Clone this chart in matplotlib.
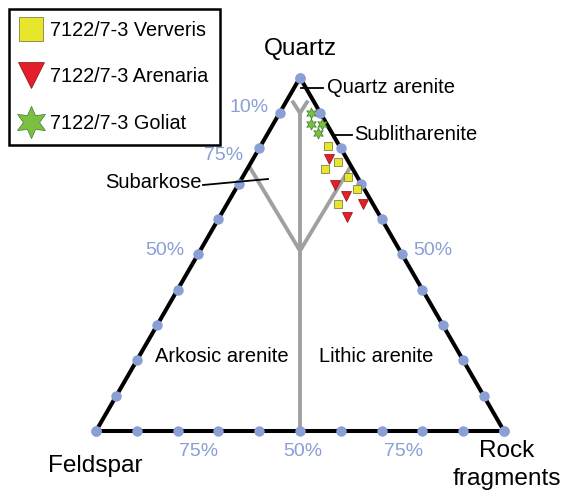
import numpy as np
import matplotlib
matplotlib.use("Agg")
import matplotlib.pyplot as plt

plt.rcParams['font.family'] = ['Liberation Sans', 'DejaVu Sans']

# sample compositions in percent: quartz, feldspar, rock fragments
ververis_q = [80.8, 76.1, 74.1, 71.8, 68.5, 64.2]
ververis_f = [2.7, 2.7, 6.9, 2.3, 1.7, 8.6]
ververis_r = [16.5, 21.2, 19.0, 25.9, 29.8, 27.2]

arenaria_q = [76.9, 69.6, 66.5, 64.2, 60.6]
arenaria_f = [4.5, 6.6, 5.4, 2.5, 8.2]
arenaria_r = [18.6, 23.8, 28.1, 33.3, 31.2]

goliat_q = [90.1, 87.0, 87.0, 84.2]
goliat_f = [2.3, 3.8, 1.1, 3.5]
goliat_r = [7.6, 9.2, 11.9, 12.3]

series_labels = ['7122/7-3 Ververis', '7122/7-3 Arenaria', '7122/7-3 Goliat']
field_labels = ['Quartz arenite', 'Sublitharenite', 'Subarkose', 'Arkosic arenite', 'Lithic arenite']
pct_labels = ['10%', '75%', '50%', '50%', '75%', '50%', '75%']

H = np.sqrt(3) / 2
BLUE = '#8a9fd6'
W, HGT, SCALE = 565, 492, 408.0
X0, Y0 = 96, 431  # pixel position of the feldspar corner


def tern(q, f, r):
    q, f, r = np.asarray(q, float), np.asarray(f, float), np.asarray(r, float)
    s = q + f + r
    return r / s + q / s / 2, q / s * H


def px(x, y):
    # pixel position (from top-left) -> data coords
    return (x - X0) / SCALE, (Y0 - y) / SCALE


fig = plt.figure(figsize=(W / 100, HGT / 100), dpi=100)
ax = fig.add_axes([0, 0, 1, 1])
ax.set_xlim(-X0 / SCALE, (W - X0) / SCALE)
ax.set_ylim(-(HGT - Y0) / SCALE, Y0 / SCALE)
ax.axis('off')

# classification lines
grey = '#a0a0a0'
for a, b in [((90, 5, 5), (0, 50, 50)),
             ((93.5, 5.2, 1.3), (90, 5, 5)),
             ((93.5, 1.3, 5.2), (90, 5, 5)),
             ((75, 25, 0), (51, 24.5, 24.5)),
             ((75, 0, 25), (51, 24.5, 24.5))]:
    xa, ya = tern(*a)
    xb, yb = tern(*b)
    ax.plot([xa, xb], [ya, yb], color=grey, lw=2.8, solid_capstyle='butt', zorder=1)

# triangle outline
ox, oy = tern([100, 0, 0, 100], [0, 100, 0, 0], [0, 0, 100, 0])
ax.plot(ox, oy, color='black', lw=2.9, zorder=2, solid_joinstyle='miter')

# 10% dots along the edges
t = np.arange(0, 101, 10)
for q, f, r in [(t, 100 - t, 0 * t), (0 * t, t, 100 - t), (t, 0 * t, 100 - t)]:
    dx, dy = tern(q, f, r)
    ax.plot(dx, dy, 'o', ms=7.5, color=BLUE, mec='none', zorder=3)

# samples
x, y = tern(ververis_q, ververis_f, ververis_r)
ax.plot(x, y, 's', ms=6.2, color='#e8e62c', mec='#6b6b30', mew=0.5, ls='none',
        zorder=4, label=series_labels[0])
x, y = tern(arenaria_q, arenaria_f, arenaria_r)
ax.plot(x, y, 'v', ms=6.5, color='#e3202a', mec='#8a1010', mew=0.5, ls='none',
        zorder=4, label=series_labels[1])
x, y = tern(goliat_q, goliat_f, goliat_r)
ax.plot(x, y, marker=(6, 1, 0), ms=8, color='#7cc043', mec='#3d7a25', mew=0.5, ls='none',
        zorder=5, label=series_labels[2])

# corner labels
fs_corner = 17.6
ax.text(*px(300, 49), 'Quartz', ha='center', va='center', fontsize=fs_corner)
ax.text(*px(95, 466), 'Feldspar', ha='center', va='center', fontsize=fs_corner)
ax.text(*px(507, 465), 'Rock\nfragments', ha='center', va='center', fontsize=fs_corner,
        linespacing=1.3)

# field labels with leader lines
fs_field = 14.5
ax.text(*px(222, 357), field_labels[3], ha='center', va='center', fontsize=fs_field)
ax.text(*px(376, 357), field_labels[4], ha='center', va='center', fontsize=fs_field)
ax.text(*px(327, 88), field_labels[0], ha='left', va='center', fontsize=fs_field)
ax.text(*px(354, 134), field_labels[1], ha='left', va='center', fontsize=fs_field)
ax.text(*px(202, 183), field_labels[2], ha='right', va='center', fontsize=fs_field)
for (xa, ya), (xb, yb) in [((301, 88), (323, 88)),
                           ((332, 135), (352, 135)),
                           ((203, 185), (268, 179))]:
    pa, pb = px(xa, ya), px(xb, yb)
    ax.plot([pa[0], pb[0]], [pa[1], pb[1]], color='black', lw=1.3, zorder=6)

# percentage labels
for lab, (xx, yy) in zip(pct_labels, [(249, 108), (224, 156), (165, 251), (433, 251),
                                       (199, 452), (303, 452), (404, 452)]):
    ax.text(*px(xx, yy), lab, ha='center', va='center', fontsize=14, color=BLUE)

leg = ax.legend(loc='upper left', bbox_to_anchor=(9 / W, 1 - 9 / HGT), fontsize=14.3,
                markerscale=2.9, frameon=True, fancybox=False, edgecolor='black',
                framealpha=1, borderpad=0.6, labelspacing=1.38, handlelength=1.0,
                handletextpad=0.45, borderaxespad=0)
leg.get_frame().set_linewidth(1.8)

fig.savefig('out.png', dpi=100)
